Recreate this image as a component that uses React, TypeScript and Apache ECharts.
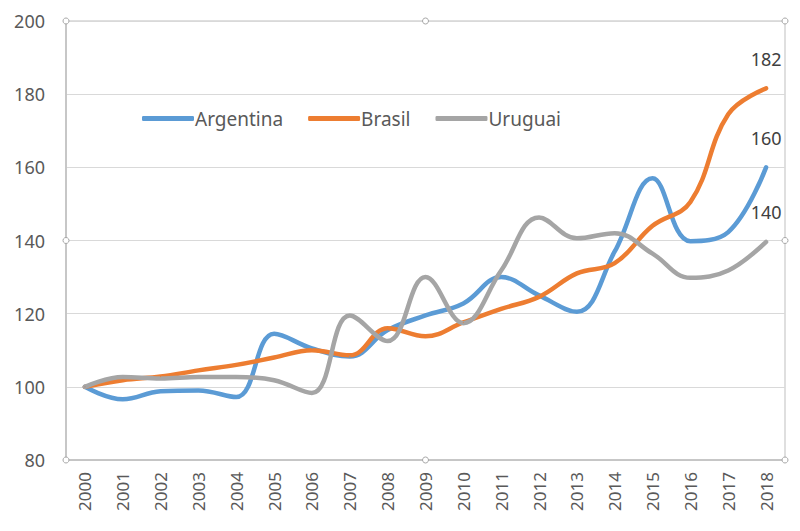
import React, { useEffect, useRef } from "react";
import * as echarts from "echarts";

const years = ["2000","2001","2002","2003","2004","2005","2006","2007","2008","2009","2010","2011","2012","2013","2014","2015","2016","2017","2018"];
const argentina = [100, 96.6, 98.8, 99, 97.2, 114.5, 110.5, 108.3, 115.5, 119.5, 122.8, 130, 125, 120.5, 137, 157, 139.8, 142.3, 160];
const brasil = [100, 101.8, 102.8, 104.5, 106, 108, 110, 108.6, 116, 113.8, 117.6, 121.3, 124.6, 131, 133.8, 144, 150.5, 174.5, 181.6];
const uruguai = [100, 102.7, 102.3, 102.7, 102.7, 101.8, 98.3, 119.5, 112.5, 130, 117.4, 131.8, 146.3, 140.6, 142, 136.4, 129.8, 131.8, 139.6];
const yMin = 80;
const yMax = 200;
const yStep = 20;

const FONT = "'Noto Sans', sans-serif";
const TEXT = "#595959";

export default function App() {
  const ref = useRef<HTMLDivElement>(null);
  useEffect(() => {
    if (!ref.current) return;
    const chart = echarts.init(ref.current, null, { renderer: "svg" });
    const L = 66, T = 21, R = 15, B = 71;
    const W = 800, H = 531;
    const xr = W - R, yb = H - B, xm = (L + xr) / 2, ym = (T + yb) / 2;
    const handles = [
      [L, T], [xm, T], [xr, T], [L, ym], [xr, ym], [L, yb], [xm, yb], [xr, yb],
    ].map(([x, y]) => ({
      type: "circle",
      shape: { cx: x, cy: y, r: 3 },
      style: { fill: "#fff", stroke: "#a6a6a6", lineWidth: 1 },
      z: 100,
    }));
    const mk = (name: string, data: number[], color: string) => ({
      name,
      type: "line",
      data,
      smooth: 0.4,
      symbol: "circle",
      symbolSize: 1,
      showSymbol: true,
      showAllSymbol: true,
      lineStyle: { width: 4.5, color, cap: "round", join: "round" },
      itemStyle: { color },
      label: {
        show: true,
        position: "top",
        distance: 20,
        fontFamily: FONT,
        fontSize: 18,
        color: "#404040",
        formatter: (p: any) => (p.dataIndex === data.length - 1 ? String(Math.round(p.value)) : ""),
      },
    });
    chart.setOption({
      animation: false,
      backgroundColor: "#fff",
      grid: { left: L, top: T, right: R, bottom: B, show: true, borderColor: "#bfbfbf", borderWidth: 1 },
      legend: {
        left: 137,
        top: 104,
        icon: "roundRect",
        itemWidth: 52,
        itemHeight: 5,
        itemGap: 25,
        textStyle: { fontFamily: FONT, fontSize: 19, color: TEXT, padding: [0, 0, 0, -4] },
        data: ["Argentina", "Brasil", "Uruguai"],
      },
      xAxis: {
        type: "category",
        data: years,
        boundaryGap: true,
        axisLine: { lineStyle: { color: "#bfbfbf", width: 1.5 } },
        axisTick: { show: false },
        axisLabel: { rotate: 90, fontFamily: FONT, fontSize: 17, color: TEXT, margin: 12, interval: 0 },
      },
      yAxis: {
        type: "value",
        min: yMin,
        max: yMax,
        interval: yStep,
        axisLine: { show: true, lineStyle: { color: "#bfbfbf", width: 1.5 } },
        axisTick: { show: false },
        splitLine: { lineStyle: { color: "#d9d9d9", width: 1 } },
        axisLabel: { fontFamily: FONT, fontSize: 18, color: TEXT, margin: 21 },
      },
      series: [
        mk("Argentina", argentina, "#5b9bd5"),
        mk("Brasil", brasil, "#ed7d31"),
        mk("Uruguai", uruguai, "#a5a5a5"),
      ],
      graphic: handles,
    });
    return () => chart.dispose();
  }, []);
  return <div ref={ref} style={{ width: 800, height: 531, position: "absolute", left: 0, top: 0 }} />;
}
